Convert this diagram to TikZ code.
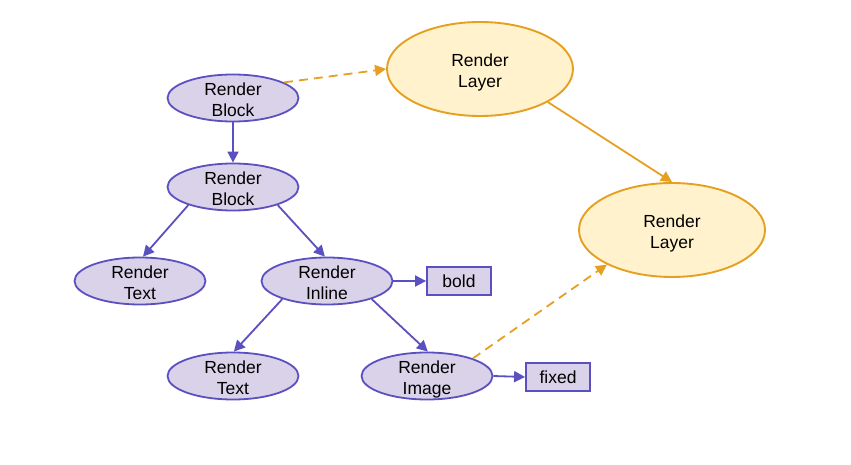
\documentclass[tikz,border=0pt]{standalone}
\usepackage{fontspec}
\setmainfont{Liberation Sans}
\usetikzlibrary{shapes.geometric,arrows.meta}
\definecolor{boxfill}{HTML}{D9D2E9}
\definecolor{boxline}{HTML}{5B50BF}
\definecolor{layerfill}{HTML}{FFF2CC}
\definecolor{layerline}{HTML}{E6A021}
% two centred lines, set a little below the node centre; zero height so the shape keeps its size
\newcommand{\twoline}[2]{\raisebox{-8.5pt}[0pt][0pt]{\begin{tabular}{@{}c@{}}#1\\#2\end{tabular}}}
\tikzset{
  x=1pt, y=-1pt,
  every node/.style={font=\fontsize{17.5}{21}\selectfont, inner sep=0pt},
  obj/.style={ellipse, draw=boxline, fill=boxfill, line width=1.8pt, minimum width=131pt, minimum height=47pt},
  layer/.style={ellipse, draw=layerline, fill=layerfill, line width=1.9pt, minimum width=186pt, minimum height=94pt},
  tag/.style={rectangle, draw=boxline, fill=boxfill, line width=1.8pt, minimum width=64pt, minimum height=28pt},
  tree/.style={draw=boxline, line width=1.8pt, -{Triangle[length=11pt,width=11pt]}},
  layerarrow/.style={draw=layerline, line width=1.8pt, -{Triangle[length=11pt,width=11pt]}},
  layerdash/.style={layerarrow, dash pattern=on 9pt off 6pt},
}
\begin{document}
\begin{tikzpicture}
\useasboundingbox (0,0) rectangle (851,465);
% render objects
\node[obj] (rb1) at (233,98) {\twoline{Render}{Block}};
\node[obj] (rb2) at (233,187) {\twoline{Render}{Block}};
\node[obj] (rt1) at (140,281) {\twoline{Render}{Text}};
\node[obj] (ri) at (327,281) {\twoline{Render}{Inline}};
\node[obj] (rt2) at (233,376) {\twoline{Render}{Text}};
\node[obj] (rim) at (427,376) {\twoline{Render}{Image}};
% style tags
\node[tag] (bold) at (459,281) {bold};
\node[tag] (fixed) at (558,377) {fixed};
% layers
\node[layer] (l1) at (480,69) {\twoline{Render}{Layer}};
\node[layer] (l2) at (672,230) {\twoline{Render}{Layer}};
% tree connectors
\draw[tree] (rb1.south) -- (rb2.north);
\draw[tree] (rb2.202) -- (rt1.83);
\draw[tree] (rb2.338) -- (ri.95);
\draw[tree] (ri.202) -- (rt2.88);
\draw[tree] (ri.338) -- (rim.88);
\draw[tree] (ri.east) -- (bold.west);
\draw[tree] (rim.east) -- (fixed.west);
% layer connectors
\draw[layerdash] (rb1.17) -- (l1.180);
\draw[layerarrow] (l1.334) -- (l2.90);
\draw[layerdash] (rim.21) -- (l2.208);
\end{tikzpicture}
\end{document}
